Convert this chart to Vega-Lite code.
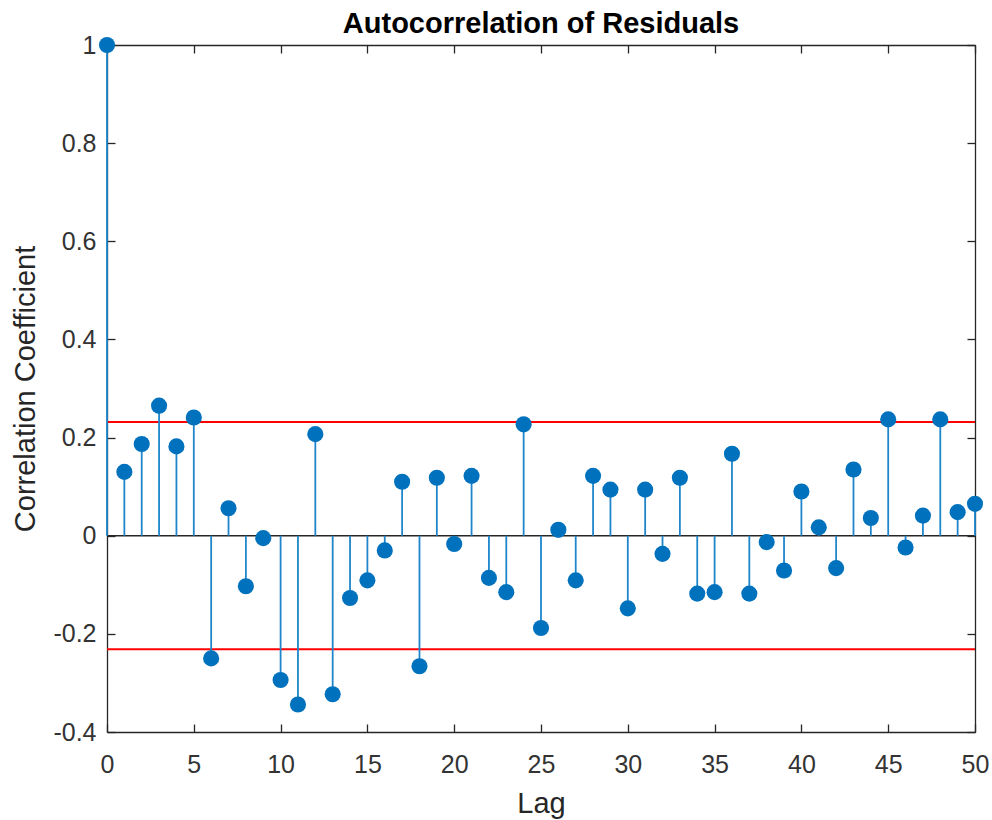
{
  "$schema": "https://vega.github.io/schema/vega-lite/v6.json",
  "width": 868,
  "height": 687,
  "autosize": {"type": "none"},
  "padding": {"left": 107, "top": 45, "right": 17, "bottom": 88},
  "background": "white",
  "title": {"text": "Autocorrelation of Residuals", "font": "Liberation Sans", "fontSize": 29, "fontWeight": "bold", "color": "#000000", "offset": -6, "anchor": "middle"},
  "config": {
    "view": {"stroke": null},
    "axis": {"grid": false, "labelFont": "Liberation Sans", "titleFont": "Liberation Sans", "domainColor": "#262626", "domainWidth": 1.3, "tickColor": "#262626", "tickWidth": 1.3, "labelColor": "#333333", "titleColor": "#262626", "titleFontWeight": "normal", "labelFontSize": 25, "titleFontSize": 29}
  },
  "datasets": {
    "acf": [
      {"lag": 0, "acf": 1.0},
      {"lag": 1, "acf": 0.130},
      {"lag": 2, "acf": 0.187},
      {"lag": 3, "acf": 0.265},
      {"lag": 4, "acf": 0.182},
      {"lag": 5, "acf": 0.241},
      {"lag": 6, "acf": -0.250},
      {"lag": 7, "acf": 0.056},
      {"lag": 8, "acf": -0.103},
      {"lag": 9, "acf": -0.005},
      {"lag": 10, "acf": -0.294},
      {"lag": 11, "acf": -0.344},
      {"lag": 12, "acf": 0.207},
      {"lag": 13, "acf": -0.323},
      {"lag": 14, "acf": -0.127},
      {"lag": 15, "acf": -0.091},
      {"lag": 16, "acf": -0.030},
      {"lag": 17, "acf": 0.110},
      {"lag": 18, "acf": -0.266},
      {"lag": 19, "acf": 0.118},
      {"lag": 20, "acf": -0.017},
      {"lag": 21, "acf": 0.122},
      {"lag": 22, "acf": -0.086},
      {"lag": 23, "acf": -0.115},
      {"lag": 24, "acf": 0.227},
      {"lag": 25, "acf": -0.188},
      {"lag": 26, "acf": 0.012},
      {"lag": 27, "acf": -0.091},
      {"lag": 28, "acf": 0.122},
      {"lag": 29, "acf": 0.094},
      {"lag": 30, "acf": -0.148},
      {"lag": 31, "acf": 0.094},
      {"lag": 32, "acf": -0.037},
      {"lag": 33, "acf": 0.118},
      {"lag": 34, "acf": -0.118},
      {"lag": 35, "acf": -0.115},
      {"lag": 36, "acf": 0.167},
      {"lag": 37, "acf": -0.118},
      {"lag": 38, "acf": -0.013},
      {"lag": 39, "acf": -0.071},
      {"lag": 40, "acf": 0.090},
      {"lag": 41, "acf": 0.017},
      {"lag": 42, "acf": -0.066},
      {"lag": 43, "acf": 0.135},
      {"lag": 44, "acf": 0.036},
      {"lag": 45, "acf": 0.237},
      {"lag": 46, "acf": -0.024},
      {"lag": 47, "acf": 0.041},
      {"lag": 48, "acf": 0.237},
      {"lag": 49, "acf": 0.048},
      {"lag": 50, "acf": 0.065}
    ],
    "bounds": [{"bound": 0.2315}, {"bound": -0.2315}],
    "baseline": [{"base": 0}]
  },
  "layer": [
    {
      "data": {"name": "bounds"},
      "mark": {"type": "rule", "color": "#FF0000", "strokeWidth": 2},
      "encoding": {"y": {"field": "bound", "type": "quantitative", "axis": null}}
    },
    {
      "data": {"name": "baseline"},
      "mark": {"type": "rule", "color": "#262626", "strokeWidth": 1.5},
      "encoding": {"y": {"field": "base", "type": "quantitative", "axis": null}}
    },
    {
      "data": {"name": "acf"},
      "mark": {"type": "rule", "color": "#1f86cc", "strokeWidth": 1.8},
      "encoding": {
        "x": {"field": "lag", "type": "quantitative", "scale": {"domain": [0, 50], "nice": false, "zero": false},
          "axis": {"orient": "bottom", "values": [0,5,10,15,20,25,30,35,40,45,50], "tickSize": -8, "labelPadding": 28, "labelFlush": false, "labelOverlap": false, "title": "Lag", "titlePadding": 12}},
        "y": {"field": "acf", "type": "quantitative", "scale": {"domain": [-0.4, 1], "nice": false, "zero": false},
          "axis": {"orient": "left", "values": [-0.4,-0.2,0,0.2,0.4,0.6,0.8,1], "labelExpr": "toString(datum.value)", "tickSize": -8, "labelPadding": 19, "labelFlush": false, "labelOverlap": false, "title": "Correlation Coefficient", "titlePadding": 12}},
        "y2": {"datum": 0}
      }
    },
    {
      "data": {"name": "acf"},
      "mark": {"type": "point", "shape": "circle", "filled": true, "color": "#0072BD", "opacity": 1, "size": 260},
      "encoding": {
        "x": {"field": "lag", "type": "quantitative",
          "axis": {"orient": "top", "values": [0,5,10,15,20,25,30,35,40,45,50], "tickSize": -8, "labels": false, "title": null}},
        "y": {"field": "acf", "type": "quantitative",
          "axis": {"orient": "right", "values": [-0.4,-0.2,0,0.2,0.4,0.6,0.8,1], "tickSize": -8, "labels": false, "title": null}}
      }
    }
  ],
  "resolve": {"axis": {"x": "independent", "y": "independent"}}
}
